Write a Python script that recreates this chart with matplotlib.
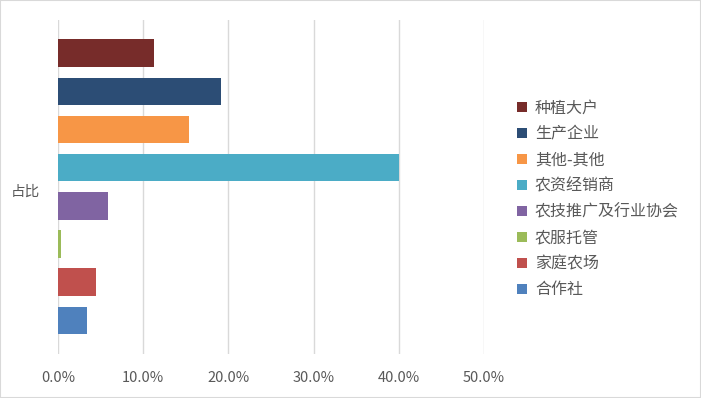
import matplotlib
matplotlib.use('Agg')
import matplotlib.pyplot as plt
from matplotlib.patches import Rectangle
from matplotlib.ticker import PercentFormatter

plt.rcParams['font.family'] = ['Noto Sans CJK SC', 'DejaVu Sans']

# series, listed top to bottom as drawn
series = ['种植大户', '生产企业', '其他-其他', '农资经销商', '农技推广及行业协会', '农服托管', '家庭农场', '合作社']
values = [0.113, 0.191, 0.154, 0.400, 0.059, 0.004, 0.045, 0.034]
colors = ['#772C2A', '#2C4D75', '#F79646', '#4BACC6', '#8064A2', '#9BBB59', '#C0504D', '#4F81BD']
category = '占比'
xticks = [0.0, 0.1, 0.2, 0.3, 0.4, 0.5]

text_color = '#595959'
grid_color = '#D9D9D9'

fig = plt.figure(figsize=(7.01, 3.98), dpi=100)
ax = fig.add_axes([58 / 701, 1 - 354 / 398, (484 - 58) / 701, (354 - 20) / 398])

for i, (name, v, c) in enumerate(zip(series, values, colors)):
    ax.barh(i, v, height=0.72, color=c, label=name, zorder=3)

ax.set_xlim(0, 0.5)
ax.set_ylim(7.88, -0.87)
ax.set_xticks(xticks)
ax.xaxis.set_major_formatter(PercentFormatter(1.0, decimals=1))
ax.set_yticks([3.6])
ax.set_yticklabels([category])
ax.grid(axis='x', color=grid_color, linewidth=1, zorder=0)
for s in ax.spines.values():
    s.set_visible(False)
ax.tick_params(axis='both', length=0, colors=text_color, labelsize=10.5)
ax.tick_params(axis='x', pad=12)
ax.tick_params(axis='y', pad=13)

fig.legend(loc='center left', bbox_to_anchor=(503 / 701, 0.5), frameon=False,
           handlelength=0.6, handleheight=0.6, handletextpad=0.5,
           labelspacing=0.56, fontsize=11.5, labelcolor=text_color)

fig.patches.append(Rectangle((0, 0), 1, 1, transform=fig.transFigure,
                             fill=False, edgecolor=grid_color, linewidth=1.5))

fig.savefig('out.png', dpi=100)
